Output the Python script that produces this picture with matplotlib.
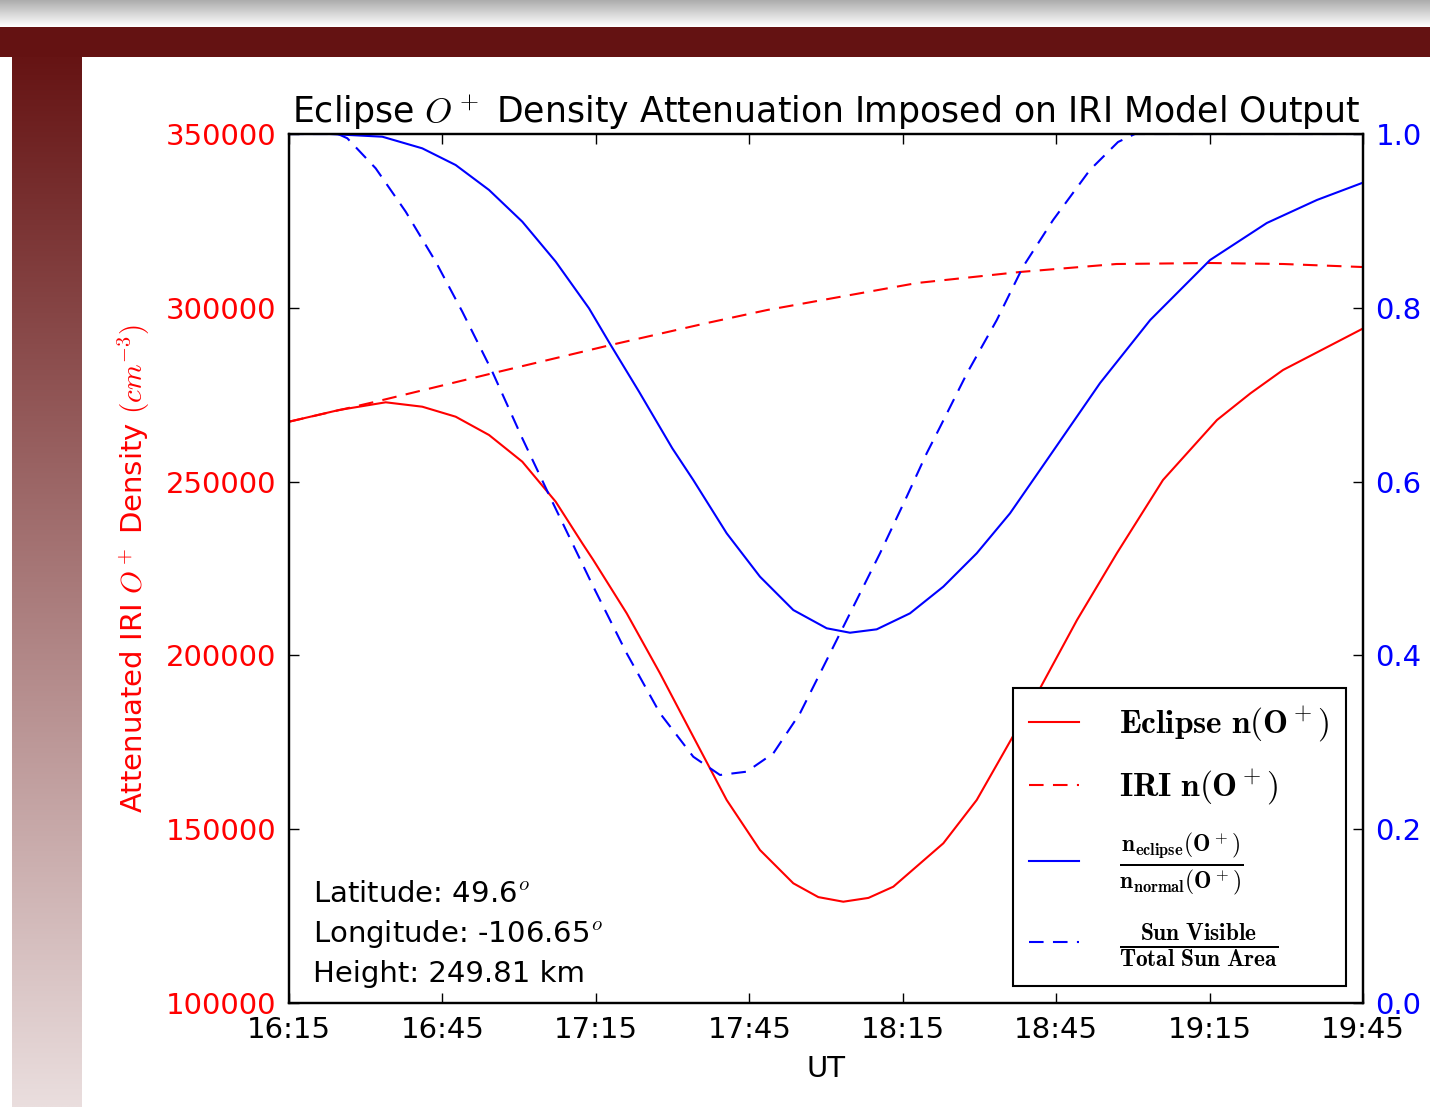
import numpy as np
import matplotlib
matplotlib.use("Agg")
import matplotlib.pyplot as plt
from matplotlib.patches import Rectangle

plt.rcParams['font.family'] = ['DejaVu Sans']
plt.rcParams['mathtext.fontset'] = 'cm'

# ---------------- data (minutes after 16:15 UT) ----------------
time_ticks = [0, 30, 60, 90, 120, 150, 180, 210]
time_labels = ['16:15', '16:45', '17:15', '17:45', '18:15', '18:45', '19:15', '19:45']

eclipse_t = [0, 9.78, 18.91, 26.06, 32.59, 39.11, 45.62, 52.15, 57.35, 59.50, 66.03,
             72.54, 79.05, 85.58, 92.09, 98.61, 103.5, 108.38, 113.3, 118.16, 127.94,
             134.47, 139.67, 146.46, 154.08, 161.90, 170.89, 181.45, 188.0, 194.36, 209.81]
eclipse_n = [267231, 270598, 272813, 271547, 268670, 263405, 255724, 244216, 232248,
             227444, 212110, 194849, 176609, 158398, 144014, 134434, 130464, 129140,
             130234, 133456, 145941, 158398, 171834, 189469, 210183, 229458, 250459,
             267721, 275402, 282105, 293900]

iri_t = [0, 16.95, 39.75, 62.90, 81.48, 93.5, 115.2, 122.8, 142.9, 161.8, 180.1, 194.4, 209.8]
iri_n = [267231, 272985, 281156, 289297, 295540, 299367, 305120, 307134, 310299,
         312600, 312888, 312600, 311737]

ratio_t = [0, 8.0, 18.24, 26.06, 32.59, 39.11, 45.62, 52.15, 58.66, 62.90, 68.44, 74.95,
           79.05, 85.58, 92.09, 98.61, 105.14, 109.69, 114.91, 121.42, 127.94, 134.47,
           140.98, 146.84, 158.6, 168.4, 180.1, 191.2, 201.0, 209.8]
ratio_v = [1.0, 1.0, 0.9969, 0.9835, 0.9643, 0.9356, 0.8991, 0.8531, 0.7994, 0.7572,
           0.7035, 0.6383, 0.6018, 0.5405, 0.4906, 0.4522, 0.4312, 0.4261, 0.4300,
           0.4484, 0.4791, 0.5175, 0.5635, 0.6133, 0.7135, 0.7860, 0.8550, 0.8976,
           0.9241, 0.9436]

sun_t = [0, 9.58, 11.40, 16.95, 22.82, 28.68, 33.89, 39.75, 45.62, 51.48, 59.50, 66.03,
         72.54, 79.05, 84.27, 89.49, 94.70, 99.92, 105.14, 110.34, 115.56, 120.78, 124.69,
         127.3, 132.6, 138.4, 143.5, 149.4, 156.6, 162.1, 165.4, 210]
sun_v = [1.0, 1.0, 0.9951, 0.9605, 0.9106, 0.8531, 0.7955, 0.7265, 0.6498, 0.5769,
         0.4791, 0.4024, 0.3334, 0.2834, 0.2624, 0.2662, 0.2873, 0.3334, 0.3947, 0.4560,
         0.5175, 0.5826, 0.6326, 0.6628, 0.7250, 0.7860, 0.8470, 0.9010, 0.9586, 0.9908,
         1.0, 1.0]

left_ticks = [100000, 150000, 200000, 250000, 300000, 350000]
right_ticks = [0.0, 0.2, 0.4, 0.6, 0.8, 1.0]

labels = [r'$\mathbf{Eclipse\ n(O^+)}$',
          r'$\mathbf{IRI\ n(O^+)}$',
          r'$\frac{\mathbf{n_{eclipse}(O^+)}}{\mathbf{n_{normal}(O^+)}}$',
          r'$\frac{\mathbf{Sun\ Visible}}{\mathbf{Total\ Sun\ Area}}$']

# ---------------- figure & slide decoration ----------------
W, H = 1430, 1107
fig = plt.figure(figsize=(W / 100, H / 100), dpi=100)
fig.patch.set_facecolor('white')

bg = fig.add_axes([0, 0, 1, 1], zorder=-10)
bg.axis('off')
gray = np.linspace(0.68, 1.0, 28)[:, None] * np.ones((1, 2))
bg.imshow(np.dstack([gray, gray, gray]), extent=[0, W, 27, 0], aspect='auto', interpolation='bilinear')
bg.add_patch(Rectangle((0, 27), W, 30, color='#641212', lw=0))
top_c = np.array([0x66, 0x14, 0x14]) / 255
bot_c = np.array([0xea, 0xde, 0xde]) / 255
f = np.linspace(0, 1, 256)[:, None]
grad = top_c[None, :] * (1 - f) + bot_c[None, :] * f
grad = np.repeat(grad[:, None, :], 2, axis=1)
bg.imshow(grad, extent=[12, 82, H, 57], aspect='auto', interpolation='bilinear')
bg.set_xlim(0, W)
bg.set_ylim(H, 0)

# ---------------- main axes ----------------
ax = fig.add_axes([289 / W, 1 - 1003 / H, (1363 - 289) / W, 869 / H])
ax2 = ax.twinx()

LW = 1.5
DASH = (0, (7, 4.5))
l1, = ax.plot(eclipse_t, eclipse_n, color='#ff0000', lw=LW)
l2, = ax.plot(iri_t, iri_n, color='#ff0000', lw=LW, ls=DASH)
l3, = ax2.plot(ratio_t, ratio_v, color='#0000ff', lw=LW)
l4, = ax2.plot(sun_t, sun_v, color='#0000ff', lw=LW, ls=DASH)

ax.set_xlim(0, 210)
ax.set_ylim(100000, 350000)
ax2.set_ylim(0, 1.0)
ax.set_xticks(time_ticks)
ax.set_xticklabels(time_labels)
ax.set_yticks(left_ticks)
ax.set_yticklabels([str(v) for v in left_ticks])
ax2.set_yticks(right_ticks)
ax2.set_yticklabels([f'{v:.1f}' for v in right_ticks])

ax.tick_params(axis='both', direction='in', length=7, width=1, labelsize=21, pad=9,
               top=True, right=False)
ax.tick_params(axis='y', labelcolor='#ff0000')
ax2.tick_params(axis='y', direction='in', length=7, width=1, labelsize=21, pad=9,
                labelcolor='#0000ff')
for a in (ax, ax2):
    for s in a.spines.values():
        s.set_linewidth(1.6)

ax.set_title(r'Eclipse $O^+$ Density Attenuation Imposed on IRI Model Output',
             fontsize=25, pad=8)
ax.set_xlabel('UT', fontsize=21, labelpad=8)
ax.set_ylabel(r'Attenuated IRI $O^+$ Density $(cm^{-3})$', fontsize=21,
              color='#ff0000', labelpad=10)

ax.text(0.0223, 0.1162, r'Latitude: 49.6$^o$', transform=ax.transAxes, fontsize=21, va='baseline')
ax.text(0.0223, 0.0702, r'Longitude: -106.65$^o$', transform=ax.transAxes, fontsize=21, va='baseline')
ax.text(0.0223, 0.0242, r'Height: 249.81 km', transform=ax.transAxes, fontsize=21, va='baseline')

leg = ax2.legend([l1, l2, l3, l4], labels, loc='lower right', fontsize=24,
                 handlelength=1.5, handletextpad=1.2, borderpad=0.5, labelspacing=0.7,
                 fancybox=False, framealpha=1, edgecolor='black', borderaxespad=0.5)
leg.get_frame().set_linewidth(1.5)

fig.savefig('out.png', dpi=100, facecolor='white')
